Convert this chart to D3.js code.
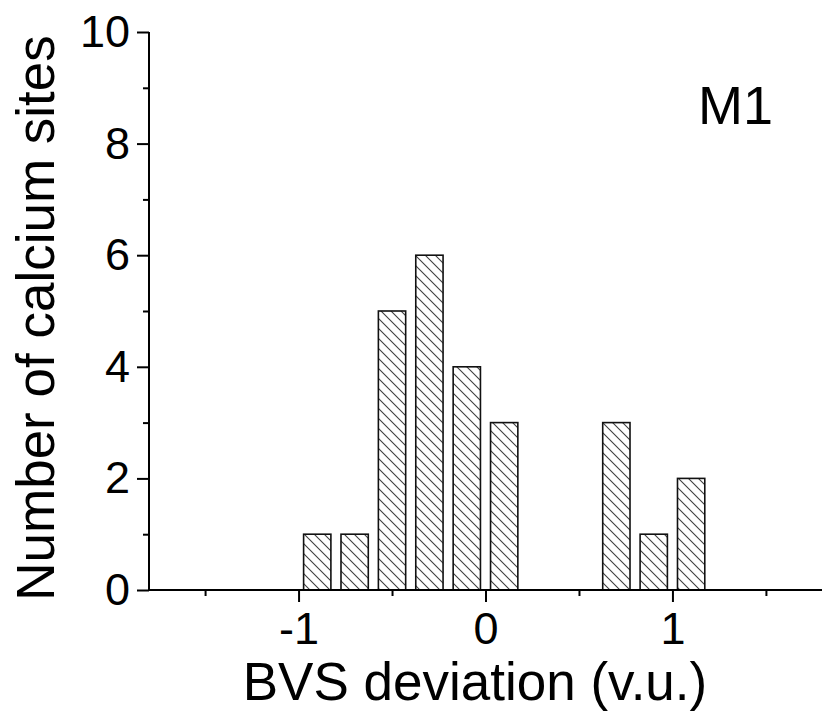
<!DOCTYPE html>
<html>
<head>
<meta charset="utf-8">
<script src="https://cdn.jsdelivr.net/npm/d3@7"></script>
<style>
  html, body { margin: 0; padding: 0; background: #fff; }
  svg { display: block; font-family: "Liberation Sans", Arial, sans-serif; }
</style>
</head>
<body>
<svg id="chart" width="822" height="717"></svg>
<script>
// Histogram of BVS deviation for calcium sites (bin centres, 0.2 v.u. wide)
const binCenters = [-0.9, -0.7, -0.5, -0.3, -0.1, 0.1, 0.3, 0.5, 0.7, 0.9, 1.1];
const siteCounts = [1, 1, 5, 6, 4, 3, 0, 0, 3, 1, 2];
const xMajorTicks = [-1, 0, 1];
const xMinorTicks = [-1.5, -0.5, 0.5, 1.5];
const yMajorTicks = [0, 2, 4, 6, 8, 10];
const yMinorTicks = [1, 3, 5, 7, 9];
const binWidth = 0.2;

const svg = d3.select("#chart");
const margin = { left: 149, right: 0, top: 32, bottom: 127 };
const W = 822, H = 717;

const x = d3.scaleLinear().domain([-1.8, 1.8]).range([margin.left, W - margin.right]);
const y = d3.scaleLinear().domain([0, 10]).range([H - margin.bottom, margin.top]);

// hatch fill
const defs = svg.append("defs");
const pat = defs.append("pattern")
  .attr("id", "hatch")
  .attr("patternUnits", "userSpaceOnUse")
  .attr("width", 10).attr("height", 10);
pat.append("path")
  .attr("d", "M-1,-1 L11,11 M-11,-1 L1,11 M9,-1 L21,11")
  .attr("stroke", "#404040").attr("stroke-width", 1.1);

// bars
const barFrac = 0.73;
svg.append("g").selectAll("rect")
  .data(binCenters.map((c, i) => ({ c, v: siteCounts[i] })).filter(d => d.v > 0))
  .join("rect")
  .attr("x", d => x(d.c - binWidth * barFrac / 2))
  .attr("width", d => x(d.c + binWidth * barFrac / 2) - x(d.c - binWidth * barFrac / 2))
  .attr("y", d => y(d.v))
  .attr("height", d => y(0) - y(d.v))
  .attr("fill", "url(#hatch)")
  .attr("stroke", "#111")
  .attr("stroke-width", 1.6);

const plainNum = d => String(d);

// x axis
const xAxis = svg.append("g").attr("transform", `translate(0,${y(0)})`);
xAxis.call(d3.axisBottom(x).tickValues(xMajorTicks).tickSize(12).tickPadding(10).tickFormat(plainNum));
xAxis.append("g").call(d3.axisBottom(x).tickValues(xMinorTicks).tickSize(6).tickFormat(""));
xAxis.selectAll(".domain").remove();
xAxis.append("line").attr("x1", x(-1.8)).attr("x2", W).attr("y1", 0).attr("y2", 0)
  .attr("stroke", "#000").attr("stroke-width", 2);
xAxis.selectAll(".tick line").attr("stroke", "#000").attr("stroke-width", 2);
xAxis.selectAll(".tick text").attr("font-size", 45).attr("fill", "#000")
  .attr("font-family", "'Liberation Sans', Arial, sans-serif");

// y axis
const yAxis = svg.append("g").attr("transform", `translate(${x(-1.8)},0)`);
yAxis.call(d3.axisLeft(y).tickValues(yMajorTicks).tickSize(12).tickPadding(7).tickFormat(plainNum));
yAxis.append("g").call(d3.axisLeft(y).tickValues(yMinorTicks).tickSize(6).tickFormat(""));
yAxis.selectAll(".domain").remove();
yAxis.append("line").attr("x1", 0).attr("x2", 0).attr("y1", y(0)).attr("y2", y(10))
  .attr("stroke", "#000").attr("stroke-width", 2);
yAxis.selectAll(".tick line").attr("stroke", "#000").attr("stroke-width", 2);
yAxis.selectAll(".tick text").attr("font-size", 45).attr("fill", "#000")
  .attr("font-family", "'Liberation Sans', Arial, sans-serif");

// axis titles
svg.append("text")
  .attr("x", 475).attr("y", 700)
  .attr("text-anchor", "middle")
  .attr("font-size", 53)
  .text("BVS deviation (v.u.)");

svg.append("text")
  .attr("transform", `translate(54,${318}) rotate(-90)`)
  .attr("text-anchor", "middle")
  .attr("font-size", 53)
  .text("Number of calcium sites");

// panel label
svg.append("text")
  .attr("x", 698).attr("y", 124)
  .attr("font-size", 54)
  .text("M1");
</script>
</body>
</html>
